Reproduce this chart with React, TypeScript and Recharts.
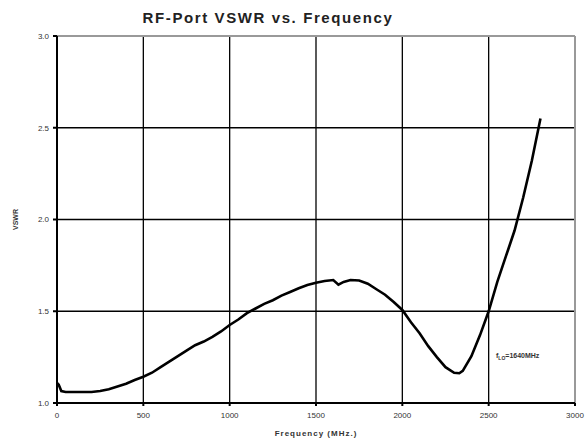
import { LineChart, Line, XAxis, YAxis, CartesianGrid, ReferenceLine } from 'recharts'

// frequency in MHz, VSWR
const freqMHz = [
  0, 10, 25, 50, 100, 150, 200, 250, 300, 350, 400, 450, 500, 550, 600, 650, 700, 750, 800, 850, 900, 950,
  1000, 1050, 1100, 1150, 1200, 1250, 1300, 1350, 1400, 1450, 1500, 1550, 1600, 1630, 1660, 1700, 1750, 1800,
  1850, 1900, 1950, 2000, 2050, 2100, 2150, 2200, 2250, 2300, 2330, 2350, 2400, 2450, 2500, 2550, 2600, 2650,
  2700, 2750, 2800,
]
const vswr = [
  1.11, 1.1, 1.065, 1.06, 1.06, 1.06, 1.06, 1.065, 1.075, 1.09, 1.105, 1.125, 1.143, 1.165, 1.195, 1.225, 1.255,
  1.285, 1.315, 1.335, 1.36, 1.39, 1.425, 1.455, 1.49, 1.515, 1.54, 1.56, 1.585, 1.605, 1.625, 1.643, 1.655, 1.665,
  1.67, 1.645, 1.66, 1.67, 1.668, 1.65, 1.62, 1.59, 1.55, 1.507, 1.44, 1.38, 1.31, 1.25, 1.195, 1.165, 1.162, 1.175,
  1.255, 1.37, 1.5, 1.66, 1.8, 1.94, 2.12, 2.32, 2.55,
]
const xTicks = [0, 500, 1000, 1500, 2000, 2500, 3000]
const yTicks = [1.0, 1.5, 2.0, 2.5, 3.0]

const data = freqMHz.map((f, i) => ({ f, v: vswr[i] }))

const tickStyle = { fontSize: 8, fill: '#333', fontFamily: 'Arial, Liberation Sans, sans-serif' }

export default function App() {
  return (
    <div style={{ position: 'absolute', left: 0, top: 0, width: 586, height: 439, background: '#fff' }}>
      <div
        style={{
          position: 'absolute',
          left: 0,
          width: 536,
          top: 9,
          textAlign: 'center',
          fontFamily: 'Arial, Liberation Sans, sans-serif',
          fontWeight: 700,
          fontSize: 15,
          letterSpacing: 1.6,
          color: '#222',
        }}
      >
        RF-Port VSWR vs. Frequency
      </div>
      <LineChart width={586} height={439} data={data} margin={{ top: 36, right: 11, bottom: 6, left: 0 }}>
        <CartesianGrid stroke="#000" strokeWidth={1.3} />
        <ReferenceLine y={3} stroke="#999" strokeWidth={2} />
        <ReferenceLine x={3000} stroke="#999" strokeWidth={2} />
        <XAxis
          dataKey="f"
          type="number"
          domain={[0, 3000]}
          ticks={xTicks}
          height={30}
          tick={tickStyle}
          tickSize={3}
          tickMargin={6}
          stroke="#000"
          strokeWidth={2}
          label={{
            value: 'Frequency (MHz.)',
            position: 'insideBottom',
            offset: -3,
            style: { fontSize: 8, fontWeight: 700, fill: '#333', letterSpacing: 1, fontFamily: 'Arial, Liberation Sans, sans-serif' },
          }}
        />
        <YAxis
          type="number"
          domain={[1, 3]}
          ticks={yTicks}
          width={57}
          tick={tickStyle}
          tickFormatter={(v) => v.toFixed(1)}
          tickSize={4}
          tickMargin={4}
          stroke="#000"
          strokeWidth={2}
          label={{
            value: 'VSWR',
            angle: -90,
            position: 'insideLeft',
            offset: 16,
            style: { fontSize: 7, fontWeight: 700, fill: '#333', textAnchor: 'middle', fontFamily: 'Arial, Liberation Sans, sans-serif' },
          }}
        />
        <Line
          dataKey="v"
          type="linear"
          stroke="#000"
          strokeWidth={2.6}
          dot={false}
          isAnimationActive={false}
        />
      </LineChart>
      <div
        style={{
          position: 'absolute',
          left: 496,
          top: 352,
          fontFamily: 'Arial, Liberation Sans, sans-serif',
          fontSize: 7,
          fontWeight: 700,
          color: '#333',
        }}
      >
        f<sub style={{ fontSize: 5 }}>LO</sub>=1640MHz
      </div>
    </div>
  )
}
